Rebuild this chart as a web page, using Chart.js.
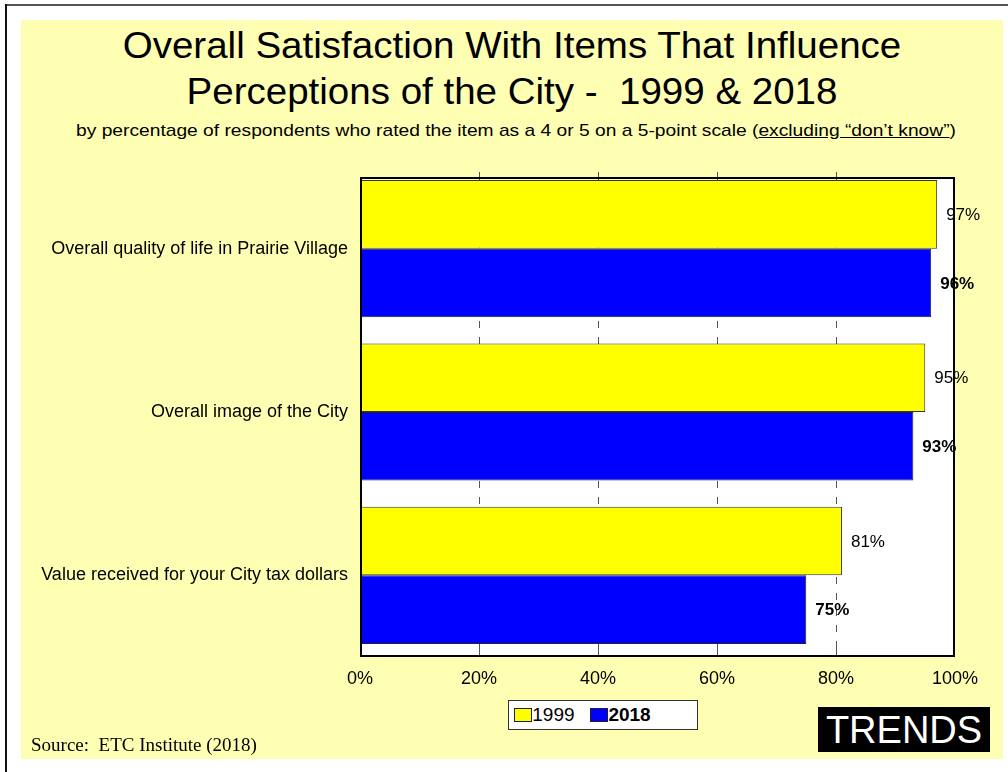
<!DOCTYPE html>
<html lang="en">
<head>
  <meta charset="UTF-8">
  <title>Overall Satisfaction - Trends</title>
  <script src="https://cdn.jsdelivr.net/npm/chart.js"></script>
  <style>
    html, body {
      margin: 0;
      padding: 0;
      background: #ffffff;
      font-family: "Liberation Sans", Arial, sans-serif;
    }
    #page {
      position: relative;
      width: 1008px;
      height: 772px;
      overflow: hidden;
    }
    #frameTop {
      position: absolute; left: 5px; top: 4px; width: 1003px; height: 2px; background: #555;
    }
    #frameLeft {
      position: absolute; left: 5px; top: 4px; width: 2px; height: 768px; background: #111;
    }
    #bg {
      position: absolute; left: 21px; top: 20px; width: 982px; height: 739px; background: #ffffb4;
    }
    canvas {
      position: absolute; left: 0; top: 0;
    }
    .title {
      position: absolute; left: 12px; width: 1000px; text-align: center;
      font-size: 36px; color: #000; white-space: nowrap;
      transform: scaleX(1.07);
    }
    #subtitle {
      position: absolute; left: 16px; width: 1000px; text-align: center; top: 121px;
      font-size: 17px; color: #000; white-space: nowrap;
      transform: scaleX(1.13);
    }
    #legend {
      position: absolute; left: 508px; top: 700px; width: 188px; height: 28px;
      background: #fff; border: 1px solid #333;
      font-size: 19px; line-height: 28px; white-space: nowrap;
    }
    #legend span.sw {
      display: inline-block; width: 16px; height: 12px; border: 1px solid #222;
      vertical-align: -1px;
    }
    #trends {
      position: absolute; left: 818px; top: 707px; width: 172px; height: 45px;
      background: #000; color: #fff; font-size: 38px; line-height: 46px; text-align: center;
    }
    #source {
      position: absolute; left: 31px; top: 734px;
      font-family: "Liberation Serif", "Times New Roman", serif; font-size: 19px; color: #000;
    }
  </style>
</head>
<body>
<div id="page">
  <div id="frameTop"></div>
  <div id="frameLeft"></div>
  <div id="bg"></div>
  <div class="title" style="top:25px">Overall Satisfaction With Items That Influence</div>
  <div class="title" style="top:71px">Perceptions of the City -&nbsp; 1999 &amp; 2018</div>
  <div id="subtitle">by percentage of respondents who rated the item as a 4 or 5 on a 5-point scale (<u>excluding “don’t know”</u>)</div>
  <canvas id="chart" width="1008" height="772"></canvas>
  <div id="legend">
    &nbsp;<span class="sw" style="background:#ffff00"></span>1999&nbsp;&nbsp;
    <span class="sw" style="background:#0000ff"></span><b>2018</b>
  </div>
  <div id="trends">TRENDS</div>
  <div id="source">Source:&nbsp; ETC Institute (2018)</div>
</div>

<script>
  const categories = [
    'Overall quality of life in Prairie Village',
    'Overall image of the City',
    'Value received for your City tax dollars'
  ];
  const values1999 = [97, 95, 81];
  const values2018 = [96, 93, 75];
  const xTicks = [0, 20, 40, 60, 80, 100];

  // visible plot box (the category bands run a little above it)
  const boxTop = 177, boxBottom = 656;

  const plotBox = {
    id: 'plotBox',
    beforeDatasetsDraw(chart) {
      const { ctx, chartArea, scales } = chart;
      ctx.save();
      ctx.fillStyle = '#ffffff';
      ctx.fillRect(chartArea.left, boxTop, chartArea.right - chartArea.left, boxBottom - boxTop);
      ctx.strokeStyle = '#555';
      ctx.lineWidth = 1;
      xTicks.slice(1, -1).forEach(v => {
        const x = Math.round(scales.x.getPixelForValue(v)) + 0.5;
        ctx.setLineDash([7, 9]);
        ctx.beginPath();
        ctx.moveTo(x, boxTop);
        ctx.lineTo(x, boxBottom);
        ctx.stroke();
        ctx.setLineDash([]);
        ctx.beginPath();
        ctx.moveTo(x, boxTop - 5);
        ctx.lineTo(x, boxTop + 1);
        ctx.moveTo(x, boxBottom - 8);
        ctx.lineTo(x, boxBottom);
        ctx.stroke();
      });
      ctx.restore();
    },
    afterDatasetsDraw(chart) {
      const { ctx, chartArea } = chart;
      ctx.save();
      ctx.strokeStyle = '#000';
      ctx.lineWidth = 2;
      ctx.strokeRect(chartArea.left + 1, boxTop + 1, chartArea.right - chartArea.left - 2, boxBottom - boxTop - 1);

      chart.data.datasets.forEach((ds, di) => {
        const meta = chart.getDatasetMeta(di);
        ctx.font = (di === 1 ? 'bold ' : '') + '17px "Liberation Sans", Arial, sans-serif';
        ctx.fillStyle = '#000';
        ctx.textBaseline = 'middle';
        ctx.textAlign = 'left';
        meta.data.forEach((bar, i) => {
          ctx.fillText(ds.data[i] + '%', bar.x + 9, bar.y + 1);
        });
      });
      ctx.restore();
    }
  };

  new Chart(document.getElementById('chart'), {
    type: 'bar',
    data: {
      labels: categories,
      datasets: [
        {
          label: '1999',
          data: values1999,
          backgroundColor: '#ffff00',
          borderColor: '#333',
          borderWidth: 1,
          borderSkipped: false,
          barPercentage: 1,
          categoryPercentage: 0.84
        },
        {
          label: '2018',
          data: values2018,
          backgroundColor: '#0000ff',
          borderColor: '#222',
          borderWidth: 1,
          borderSkipped: false,
          barPercentage: 1,
          categoryPercentage: 0.84
        }
      ]
    },
    options: {
      indexAxis: 'y',
      responsive: false,
      animation: false,
      layout: { padding: { top: 167, right: 53, bottom: 0, left: 0 } },
      plugins: {
        legend: { display: false },
        tooltip: { enabled: false }
      },
      scales: {
        x: {
          min: 0,
          max: 100,
          afterFit: s => { s.height = 115; },
          afterBuildTicks: s => { s.ticks = xTicks.map(v => ({ value: v })); },
          grid: { display: false },
          border: { display: false },
          ticks: {
            padding: 3,
            color: '#000',
            font: { size: 18, family: '"Liberation Sans", Arial, sans-serif' },
            callback: v => v + '%'
          }
        },
        y: {
          afterFit: s => { s.width = 360; },
          grid: { display: false },
          border: { display: false },
          ticks: {
            padding: 4,
            color: '#000',
            font: { size: 18, family: '"Liberation Sans", Arial, sans-serif' }
          }
        }
      }
    },
    plugins: [plotBox]
  });
</script>
</body>
</html>
